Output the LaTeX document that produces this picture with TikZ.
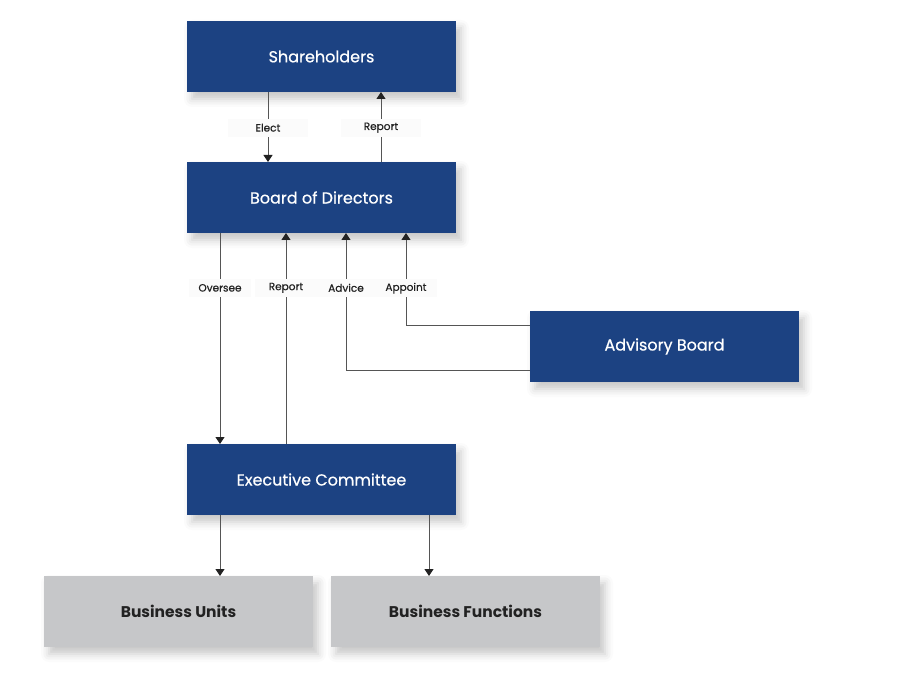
\documentclass[tikz,border=0pt]{standalone}
\usepackage{fontspec}
\setmainfont{Poppins}
\newfontfamily\medfont{Poppins}[FakeBold=0.6]
\usetikzlibrary{arrows.meta,shadows.blur}
\definecolor{navy}{HTML}{1C4282}
\definecolor{boxgray}{HTML}{C6C7C9}
\definecolor{linegray}{HTML}{555555}
\definecolor{txtdark}{HTML}{222222}
\definecolor{lblbg}{HTML}{FBFBFB}
\tikzset{
  orgbox/.style={rectangle, minimum width=269pt, minimum height=71pt, inner sep=0pt,
    blur shadow={shadow xshift=5pt, shadow yshift=-7pt, shadow blur radius=8pt, shadow opacity=22}},
  bluebox/.style={orgbox, fill=navy, text=white, font=\medfont\fontsize{16}{18}\selectfont},
  graybox/.style={orgbox, fill=boxgray, text=txtdark, font=\bfseries\fontsize{15.5}{18}\selectfont},
  lbl/.style={fill=lblbg, inner sep=2pt, minimum width=62pt, minimum height=18pt, text=txtdark, font=\medfont\fontsize{10.5}{12}\selectfont},
  widelbl/.style={lbl, minimum width=80pt},
  conn/.style={draw=linegray, line width=0.8pt, -{Triangle[width=9pt,length=7pt,color=txtdark]}},
}
\begin{document}
\begin{tikzpicture}[x=1pt,y=-1pt]
\useasboundingbox (0,0) rectangle (918,684);
\node[bluebox] (sh) at (321.5,56.5) {Shareholders};
\node[bluebox] (bd) at (321.5,197.5) {Board of Directors};
\node[bluebox] (ab) at (664.5,346.5) {Advisory Board};
\node[bluebox] (ex) at (321.5,479.5) {Executive Committee};
\node[graybox] (bu) at (178.5,611.5) {Business Units};
\node[graybox] (bf) at (465.5,611.5) {Business Functions};
% coordinates for connector ends
\coordinate (shE) at (268,92);  \coordinate (bdE) at (268,162);
\coordinate (bdR) at (381,162); \coordinate (shR) at (381,92);
\coordinate (bdO) at (220,233); \coordinate (exO) at (220,444);
\coordinate (exR) at (286,444); \coordinate (bdR2) at (286,233);
\coordinate (abA) at (530,370); \coordinate (bdA) at (346,233);
\coordinate (abP) at (530,325); \coordinate (bdP) at (406,233);
\coordinate (exU) at (220,515); \coordinate (buT) at (220,576);
\coordinate (exF) at (429,515); \coordinate (bfT) at (429,576);
\draw[conn] (shE) -- (bdE) node[widelbl, pos=0.51] {Elect};
\draw[conn] (bdR) -- (shR) node[widelbl, pos=0.49] {Report};
\draw[conn] (bdO) -- (exO) node[lbl, pos=0.26] {Oversee};
\draw[conn] (exR) -- (bdR2) node[lbl, pos=0.74] {Report};
\draw[conn] (abA) -- (346,370) -- (bdA) node[lbl, pos=0.6] {Advice};
\draw[conn] (abP) -- (406,325) -- (bdP) node[lbl, pos=0.4] {Appoint};
\draw[conn] (exU) -- (buT);
\draw[conn] (exF) -- (bfT);
\end{tikzpicture}
\end{document}
